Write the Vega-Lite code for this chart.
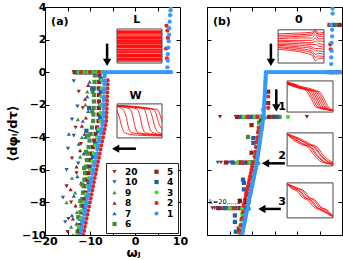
{
"$schema":"https://vega.github.io/schema/vega-lite/v6.json",
"padding":{"left":5,"top":0,"right":0,"bottom":0},
"background":"white",
"bounds":"flush",
"spacing":27,
"config":{
 "view":{"stroke":"black","strokeWidth":1},
 "font":"DejaVu Sans",
 "axis":{"labelFont":"DejaVu Sans","labelFontWeight":"bold","labelFontSize":11,"labelColor":"black","domainColor":"black","tickColor":"black","grid":false,"titleFont":"DejaVu Sans","titleFontWeight":"bold","titleColor":"black","tickSize":-4,"labelPadding":3}
},
"datasets":{
"pa":[
{"x":-13.6,"y":0,"k":"20"},{"x":-12.4,"y":0,"k":"20"},{"x":-11.0,"y":0,"k":"20"},{"x":-12.5,"y":-1.2,"k":"20"},{"x":-11.6,"y":-2.2,"k":"20"},{"x":-13.2,"y":-3.4,"k":"20"},{"x":-12.0,"y":-4.4,"k":"20"},{"x":-14.0,"y":-5.3,"k":"20"},{"x":-13.0,"y":-6.2,"k":"20"},{"x":-15.2,"y":-7.0,"k":"20"},{"x":-14.2,"y":-8.0,"k":"20"},{"x":-14.8,"y":-9.0,"k":"20"},{"x":-15.0,"y":-9.8,"k":"20"},
{"x":-13.2,"y":0,"k":"10"},{"x":-11.8,"y":0,"k":"10"},{"x":-13.6,"y":-0.55,"k":"10"},{"x":-14.0,"y":-2.9,"k":"10"},{"x":-12.8,"y":-2.1,"k":"10"},{"x":-14.9,"y":-4.7,"k":"10"},{"x":-13.6,"y":-3.9,"k":"10"},{"x":-16.0,"y":-7.7,"k":"10"},{"x":-15.2,"y":-6.0,"k":"10"},{"x":-15.5,"y":-9.2,"k":"10"},{"x":-12.6,"y":-5.6,"k":"10"},
{"x":-12.8,"y":0,"k":"9"},{"x":-10.6,"y":0,"k":"9"},{"x":-12.7,"y":-2.9,"k":"9"},{"x":-11.0,"y":-2.0,"k":"9"},{"x":-14.0,"y":-6.5,"k":"9"},{"x":-12.2,"y":-5.2,"k":"9"},{"x":-13.3,"y":-7.4,"k":"9"},{"x":-15.2,"y":-8.0,"k":"9"},{"x":-12.9,"y":-8.6,"k":"9"},{"x":-14.2,"y":-9.5,"k":"9"},{"x":-11.8,"y":-4.0,"k":"9"},{"x":-10.6,"y":-1.2,"k":"9"},{"x":-13.8,"y":-10.0,"k":"9"},
{"x":-12.0,"y":0,"k":"8"},{"x":-10.2,"y":0,"k":"8"},{"x":-11.1,"y":-1.65,"k":"8"},{"x":-10.9,"y":-2.8,"k":"8"},{"x":-12.2,"y":-4.8,"k":"8"},{"x":-11.2,"y":-3.8,"k":"8"},{"x":-13.0,"y":-5.8,"k":"8"},{"x":-12.0,"y":-6.8,"k":"8"},{"x":-14.3,"y":-7.2,"k":"8"},{"x":-13.2,"y":-8.2,"k":"8"},{"x":-13.8,"y":-9.0,"k":"8"},{"x":-12.6,"y":-9.6,"k":"8"},{"x":-10.4,"y":-0.8,"k":"8"},{"x":-11.8,"y":-3.3,"k":"8"},
{"x":-11.5,"y":0,"k":"7"},{"x":-9.8,"y":0,"k":"7"},{"x":-14.7,"y":-3.8,"k":"7"},{"x":-10.6,"y":-1.5,"k":"7"},{"x":-10.4,"y":-2.4,"k":"7"},{"x":-11.6,"y":-3.0,"k":"7"},{"x":-12.5,"y":-4.4,"k":"7"},{"x":-11.4,"y":-5.0,"k":"7"},{"x":-12.8,"y":-6.4,"k":"7"},{"x":-13.6,"y":-7.6,"k":"7"},{"x":-12.2,"y":-7.9,"k":"7"},{"x":-14.0,"y":-8.8,"k":"7"},{"x":-13.0,"y":-9.3,"k":"7"},{"x":-10.1,"y":-0.6,"k":"7"},{"x":-11.0,"y":-4.0,"k":"7"},
{"x":-13.0,"y":0,"k":"6"},{"x":-12.2,"y":0,"k":"6"},{"x":-11.4,"y":0,"k":"6"},{"x":-10.6,"y":0,"k":"6"},{"x":-9.8,"y":0,"k":"6"},{"x":-9.0,"y":0,"k":"6"},
{"x":-8.93,"y":-0.2,"k":"6"},{"x":-8.98,"y":-0.6,"k":"6"},{"x":-9.03,"y":-1.0,"k":"6"},{"x":-9.09,"y":-1.4,"k":"6"},{"x":-9.14,"y":-1.8,"k":"6"},{"x":-9.19,"y":-2.2,"k":"6"},{"x":-9.25,"y":-2.6,"k":"6"},{"x":-9.3,"y":-3.0,"k":"6"},{"x":-9.58,"y":-3.4,"k":"6"},{"x":-9.86,"y":-3.8,"k":"6"},{"x":-10.1,"y":-4.2,"k":"6"},{"x":-10.3,"y":-4.6,"k":"6"},{"x":-10.5,"y":-5.0,"k":"6"},{"x":-10.7,"y":-5.4,"k":"6"},{"x":-10.9,"y":-5.8,"k":"6"},{"x":-11.08,"y":-6.2,"k":"6"},{"x":-11.24,"y":-6.6,"k":"6"},{"x":-11.4,"y":-7.0,"k":"6"},{"x":-11.56,"y":-7.4,"k":"6"},{"x":-11.72,"y":-7.8,"k":"6"},{"x":-11.9,"y":-8.2,"k":"6"},{"x":-12.1,"y":-8.6,"k":"6"},{"x":-12.3,"y":-9.0,"k":"6"},{"x":-12.54,"y":-9.4,"k":"6"},{"x":-12.78,"y":-9.8,"k":"6"},
{"x":-9.4,"y":-1.2,"k":"6"},{"x":-9.5,"y":-2.4,"k":"6"},{"x":-10.4,"y":-3.9,"k":"6"},{"x":-10.9,"y":-4.9,"k":"6"},{"x":-11.3,"y":-5.9,"k":"6"},{"x":-11.7,"y":-6.9,"k":"6"},{"x":-12.1,"y":-7.9,"k":"6"},{"x":-12.6,"y":-8.9,"k":"6"},
{"x":-13.4,"y":0,"k":"5"},{"x":-12.6,"y":0,"k":"5"},{"x":-11.8,"y":0,"k":"5"},{"x":-11.0,"y":0,"k":"5"},{"x":-10.2,"y":0,"k":"5"},{"x":-9.4,"y":0,"k":"5"},{"x":-8.6,"y":0,"k":"5"},{"x":-7.8,"y":0,"k":"5"},
{"x":-7.91,"y":-0.2,"k":"5"},{"x":-7.94,"y":-0.6,"k":"5"},{"x":-7.97,"y":-1.0,"k":"5"},{"x":-7.99,"y":-1.4,"k":"5"},{"x":-8.02,"y":-1.8,"k":"5"},{"x":-8.05,"y":-2.2,"k":"5"},{"x":-8.07,"y":-2.6,"k":"5"},{"x":-8.1,"y":-3.0,"k":"5"},{"x":-8.42,"y":-3.4,"k":"5"},{"x":-8.74,"y":-3.8,"k":"5"},{"x":-9.04,"y":-4.2,"k":"5"},{"x":-9.32,"y":-4.6,"k":"5"},{"x":-9.6,"y":-5.0,"k":"5"},{"x":-9.84,"y":-5.4,"k":"5"},{"x":-10.08,"y":-5.8,"k":"5"},{"x":-10.32,"y":-6.2,"k":"5"},{"x":-10.56,"y":-6.6,"k":"5"},{"x":-10.8,"y":-7.0,"k":"5"},{"x":-11.0,"y":-7.4,"k":"5"},{"x":-11.2,"y":-7.8,"k":"5"},{"x":-11.42,"y":-8.2,"k":"5"},{"x":-11.66,"y":-8.6,"k":"5"},{"x":-11.9,"y":-9.0,"k":"5"},{"x":-12.14,"y":-9.4,"k":"5"},{"x":-12.38,"y":-9.8,"k":"5"},
{"x":-12.9,"y":0,"k":"4"},{"x":-12.1,"y":0,"k":"4"},{"x":-11.3,"y":0,"k":"4"},{"x":-10.5,"y":0,"k":"4"},{"x":-9.7,"y":0,"k":"4"},{"x":-8.9,"y":0,"k":"4"},{"x":-8.1,"y":0,"k":"4"},{"x":-7.4,"y":0,"k":"4"},
{"x":-7.58,"y":-0.4,"k":"4"},{"x":-7.63,"y":-1.2,"k":"4"},{"x":-7.68,"y":-2.0,"k":"4"},{"x":-7.74,"y":-2.8,"k":"4"},{"x":-8.23,"y":-3.6,"k":"4"},{"x":-8.83,"y":-4.4,"k":"4"},{"x":-9.37,"y":-5.2,"k":"4"},{"x":-9.85,"y":-6.0,"k":"4"},{"x":-10.33,"y":-6.8,"k":"4"},{"x":-10.75,"y":-7.6,"k":"4"},{"x":-11.19,"y":-8.4,"k":"4"},{"x":-11.67,"y":-9.2,"k":"4"},{"x":-12.15,"y":-10.0,"k":"4"},
{"x":-9.5,"y":-1.0,"k":"4"},{"x":-10.2,"y":-2.2,"k":"4"},{"x":-10.8,"y":-3.6,"k":"4"},
{"x":-12.5,"y":0,"k":"3"},{"x":-11.5,"y":0,"k":"3"},{"x":-10.5,"y":0,"k":"3"},{"x":-9.5,"y":0,"k":"3"},{"x":-8.5,"y":0,"k":"3"},{"x":-7.5,"y":0,"k":"3"},
{"x":-7.37,"y":-0.5,"k":"3"},{"x":-7.43,"y":-1.0,"k":"3"},{"x":-7.5,"y":-1.5,"k":"3"},{"x":-7.57,"y":-2.0,"k":"3"},{"x":-7.63,"y":-2.5,"k":"3"},{"x":-7.7,"y":-3.0,"k":"3"},{"x":-8.07,"y":-3.5,"k":"3"},{"x":-8.43,"y":-4.0,"k":"3"},{"x":-8.8,"y":-4.5,"k":"3"},{"x":-9.16,"y":-5.0,"k":"3"},{"x":-9.53,"y":-5.5,"k":"3"},{"x":-9.89,"y":-6.0,"k":"3"},{"x":-10.26,"y":-6.5,"k":"3"},{"x":-10.62,"y":-7.0,"k":"3"},{"x":-10.99,"y":-7.5,"k":"3"},{"x":-11.35,"y":-8.0,"k":"3"},{"x":-11.72,"y":-8.5,"k":"3"},{"x":-12.08,"y":-9.0,"k":"3"},{"x":-12.45,"y":-9.5,"k":"3"},{"x":-12.81,"y":-10.0,"k":"3"},
{"x":-12.0,"y":0,"k":"2"},{"x":-10.0,"y":0,"k":"2"},{"x":-8.0,"y":0,"k":"2"},
{"x":-6.07,"y":-0.5,"k":"2"},{"x":-6.1,"y":-0.75,"k":"2"},{"x":-6.13,"y":-1.0,"k":"2"},{"x":-6.17,"y":-1.25,"k":"2"},{"x":-6.2,"y":-1.5,"k":"2"},{"x":-6.23,"y":-1.75,"k":"2"},{"x":-6.27,"y":-2.0,"k":"2"},{"x":-6.3,"y":-2.25,"k":"2"},{"x":-6.33,"y":-2.5,"k":"2"},{"x":-6.37,"y":-2.75,"k":"2"},{"x":-6.4,"y":-3.0,"k":"2"},{"x":-6.58,"y":-3.25,"k":"2"},{"x":-6.77,"y":-3.5,"k":"2"},{"x":-6.95,"y":-3.75,"k":"2"},{"x":-7.13,"y":-4.0,"k":"2"},{"x":-7.31,"y":-4.25,"k":"2"},{"x":-7.5,"y":-4.5,"k":"2"},{"x":-7.68,"y":-4.75,"k":"2"},{"x":-7.86,"y":-5.0,"k":"2"},{"x":-8.04,"y":-5.25,"k":"2"},{"x":-8.23,"y":-5.5,"k":"2"},{"x":-8.41,"y":-5.75,"k":"2"},{"x":-8.59,"y":-6.0,"k":"2"},{"x":-8.77,"y":-6.25,"k":"2"},{"x":-8.96,"y":-6.5,"k":"2"},{"x":-9.14,"y":-6.75,"k":"2"},{"x":-9.32,"y":-7.0,"k":"2"},{"x":-9.5,"y":-7.25,"k":"2"},{"x":-9.69,"y":-7.5,"k":"2"},{"x":-9.87,"y":-7.75,"k":"2"},{"x":-10.05,"y":-8.0,"k":"2"},{"x":-10.23,"y":-8.25,"k":"2"},{"x":-10.42,"y":-8.5,"k":"2"},{"x":-10.6,"y":-8.75,"k":"2"},{"x":-10.78,"y":-9.0,"k":"2"},{"x":-10.96,"y":-9.25,"k":"2"},{"x":-11.15,"y":-9.5,"k":"2"},{"x":-11.33,"y":-9.75,"k":"2"},{"x":-11.51,"y":-10.0,"k":"2"},
{"x":7.0,"y":2.85,"k":"2"},{"x":7.2,"y":2.55,"k":"2"},{"x":6.9,"y":1.45,"k":"2"},{"x":7.1,"y":0.85,"k":"2"},{"x":7.3,"y":2.1,"k":"2"},
{"x":-6.70,"y":0,"k":"1"},{"x":-6.73,"y":-0.25,"k":"1"},{"x":-6.77,"y":-0.5,"k":"1"},{"x":-6.80,"y":-0.75,"k":"1"},{"x":-6.83,"y":-1,"k":"1"},{"x":-6.87,"y":-1.25,"k":"1"},{"x":-6.90,"y":-1.5,"k":"1"},{"x":-6.93,"y":-1.75,"k":"1"},{"x":-6.97,"y":-2,"k":"1"},{"x":-7.00,"y":-2.25,"k":"1"},{"x":-7.03,"y":-2.5,"k":"1"},{"x":-7.07,"y":-2.75,"k":"1"},{"x":-7.10,"y":-3,"k":"1"},{"x":-7.28,"y":-3.25,"k":"1"},{"x":-7.47,"y":-3.5,"k":"1"},{"x":-7.65,"y":-3.75,"k":"1"},{"x":-7.83,"y":-4,"k":"1"},{"x":-8.01,"y":-4.25,"k":"1"},{"x":-8.20,"y":-4.5,"k":"1"},{"x":-8.38,"y":-4.75,"k":"1"},{"x":-8.56,"y":-5,"k":"1"},{"x":-8.74,"y":-5.25,"k":"1"},{"x":-8.93,"y":-5.5,"k":"1"},{"x":-9.11,"y":-5.75,"k":"1"},{"x":-9.29,"y":-6,"k":"1"},{"x":-9.47,"y":-6.25,"k":"1"},{"x":-9.66,"y":-6.5,"k":"1"},{"x":-9.84,"y":-6.75,"k":"1"},{"x":-10.02,"y":-7,"k":"1"},{"x":-10.2,"y":-7.25,"k":"1"},{"x":-10.39,"y":-7.5,"k":"1"},{"x":-10.57,"y":-7.75,"k":"1"},{"x":-10.75,"y":-8,"k":"1"},{"x":-10.93,"y":-8.25,"k":"1"},{"x":-11.12,"y":-8.5,"k":"1"},{"x":-11.3,"y":-8.75,"k":"1"},{"x":-11.48,"y":-9,"k":"1"},{"x":-11.66,"y":-9.25,"k":"1"},{"x":-11.85,"y":-9.5,"k":"1"},{"x":-12.03,"y":-9.75,"k":"1"},{"x":-12.21,"y":-10,"k":"1"},
{"x":-6.72,"y":-0.12,"k":"1"},{"x":-6.78,"y":-0.62,"k":"1"},{"x":-6.85,"y":-1.12,"k":"1"},{"x":-6.92,"y":-1.62,"k":"1"},{"x":-6.98,"y":-2.12,"k":"1"},{"x":-7.05,"y":-2.62,"k":"1"},{"x":-7.19,"y":-3.12,"k":"1"},{"x":-7.56,"y":-3.62,"k":"1"},{"x":-7.92,"y":-4.12,"k":"1"},{"x":-8.29,"y":-4.62,"k":"1"},{"x":-8.65,"y":-5.12,"k":"1"},{"x":-9.02,"y":-5.62,"k":"1"},{"x":-9.38,"y":-6.12,"k":"1"},{"x":-9.75,"y":-6.62,"k":"1"},{"x":-10.11,"y":-7.12,"k":"1"},{"x":-10.48,"y":-7.62,"k":"1"},{"x":-10.84,"y":-8.12,"k":"1"},{"x":-11.21,"y":-8.62,"k":"1"},{"x":-11.57,"y":-9.12,"k":"1"},{"x":-11.94,"y":-9.62,"k":"1"},
{"x":-6.4,"y":0,"k":"1"},{"x":-5.8,"y":0,"k":"1"},{"x":-5.2,"y":0,"k":"1"},{"x":-4.6,"y":0,"k":"1"},{"x":-4.0,"y":0,"k":"1"},{"x":-3.4,"y":0,"k":"1"},{"x":-2.8,"y":0,"k":"1"},{"x":-2.2,"y":0,"k":"1"},{"x":-1.6,"y":0,"k":"1"},{"x":-1.0,"y":0,"k":"1"},{"x":-0.4,"y":0,"k":"1"},{"x":0.2,"y":0,"k":"1"},{"x":0.8,"y":0,"k":"1"},{"x":1.4,"y":0,"k":"1"},{"x":2.0,"y":0,"k":"1"},{"x":2.6,"y":0,"k":"1"},{"x":3.2,"y":0,"k":"1"},{"x":3.8,"y":0,"k":"1"},{"x":4.4,"y":0,"k":"1"},{"x":5.0,"y":0,"k":"1"},{"x":5.6,"y":0,"k":"1"},{"x":6.2,"y":0,"k":"1"},{"x":6.8,"y":0,"k":"1"},{"x":7.4,"y":0,"k":"1"},{"x":8.0,"y":0,"k":"1"},
{"x":7.2,"y":0.3,"k":"1"},{"x":7.3,"y":0.7,"k":"1"},{"x":7.3,"y":1.1,"k":"1"},{"x":7.4,"y":1.5,"k":"1"},{"x":7.5,"y":1.9,"k":"1"},{"x":7.6,"y":2.3,"k":"1"},{"x":7.6,"y":2.7,"k":"1"},{"x":7.7,"y":3.1,"k":"1"},{"x":7.8,"y":3.5,"k":"1"},{"x":7.9,"y":3.8,"k":"1"},{"x":8.0,"y":4.0,"k":"1"}
],
"pb":[
{"x":-13.6,"y":-2.75,"k":"20"},{"x":-17.1,"y":-2.75,"k":"20"},{"x":2.2,"y":-2.75,"k":"20"},{"x":-16.9,"y":-5.55,"k":"20"},{"x":-14.6,"y":-5.55,"k":"20"},{"x":-18.8,"y":-8.35,"k":"20"},{"x":-17.2,"y":-8.35,"k":"20"},{"x":8.9,"y":0,"k":"20"},
{"x":-13.1,"y":-2.75,"k":"10"},{"x":-17.6,"y":-5.55,"k":"10"},{"x":-15.2,"y":-5.55,"k":"10"},{"x":-18.3,"y":-8.35,"k":"10"},{"x":-16.3,"y":-8.35,"k":"10"},
{"x":-12.6,"y":-2.75,"k":"9"},{"x":-14.0,"y":-5.55,"k":"9"},{"x":-12.0,"y":-5.55,"k":"9"},{"x":-17.7,"y":-8.35,"k":"9"},{"x":-15.0,"y":-8.35,"k":"9"},
{"x":-12.1,"y":-2.75,"k":"8"},{"x":-13.5,"y":-5.55,"k":"8"},{"x":-11.5,"y":-5.55,"k":"8"},{"x":-16.8,"y":-8.35,"k":"8"},{"x":-14.2,"y":-8.35,"k":"8"},
{"x":-11.6,"y":-2.75,"k":"7"},{"x":-13.0,"y":-5.55,"k":"7"},{"x":-10.8,"y":-5.55,"k":"7"},{"x":-15.8,"y":-8.35,"k":"7"},{"x":-13.5,"y":-8.35,"k":"7"},
{"x":-11.1,"y":-2.75,"k":"6"},{"x":-9.6,"y":-2.75,"k":"6"},{"x":-8.1,"y":-2.75,"k":"6"},{"x":-5.6,"y":-2.75,"k":"6"},{"x":-3.9,"y":-2.75,"k":"6"},{"x":-12.5,"y":-5.55,"k":"6"},{"x":-10.3,"y":-5.55,"k":"6"},{"x":-9.2,"y":-5.55,"k":"6"},{"x":-15.2,"y":-8.35,"k":"6"},{"x":-13.0,"y":-8.35,"k":"6"},{"x":-11.8,"y":-8.35,"k":"6"},
{"x":-8.4,"y":-3.1,"k":"6"},{"x":-8.5,"y":-3.6,"k":"6"},{"x":-8.7,"y":-4.1,"k":"6"},{"x":-8.9,"y":-4.6,"k":"6"},{"x":-9.1,"y":-5.1,"k":"6"},{"x":-10.9,"y":-3.98,"k":"6"},{"x":-9.6,"y":-6.0,"k":"6"},{"x":-9.9,"y":-6.5,"k":"6"},{"x":-10.2,"y":-7.0,"k":"6"},{"x":-10.5,"y":-7.5,"k":"6"},{"x":-10.8,"y":-8.0,"k":"6"},{"x":-12.0,"y":-8.9,"k":"6"},{"x":-12.3,"y":-9.4,"k":"6"},{"x":-12.6,"y":-9.9,"k":"6"},{"x":7.0,"y":0,"k":"6"},{"x":8.5,"y":0,"k":"6"},{"x":7.2,"y":2.9,"k":"6"},{"x":8.8,"y":2.9,"k":"6"},
{"x":-13.3,"y":-2.75,"k":"5"},{"x":-10.6,"y":-2.75,"k":"5"},{"x":-9.1,"y":-2.75,"k":"5"},{"x":-7.9,"y":-2.75,"k":"5"},{"x":-6.2,"y":-2.75,"k":"5"},{"x":-5.0,"y":-2.75,"k":"5"},{"x":-15.8,"y":-5.55,"k":"5"},{"x":-12.8,"y":-5.55,"k":"5"},{"x":-11.0,"y":-5.55,"k":"5"},{"x":-9.6,"y":-5.55,"k":"5"},{"x":-17.5,"y":-8.35,"k":"5"},{"x":-14.6,"y":-8.35,"k":"5"},{"x":-12.6,"y":-8.35,"k":"5"},{"x":-11.2,"y":-8.35,"k":"5"},
{"x":-10.1,"y":-3.25,"k":"5"},{"x":-10.1,"y":-4.95,"k":"5"},{"x":-8.0,"y":-3.0,"k":"5"},{"x":-12.7,"y":-7.9,"k":"5"},{"x":-11.2,"y":-7.5,"k":"5"},{"x":-12.9,"y":-9.6,"k":"5"},{"x":7.6,"y":0,"k":"5"},{"x":9.2,"y":0,"k":"5"},{"x":9.5,"y":2.9,"k":"5"},{"x":-6.4,"y":-1.2,"k":"5"},{"x":-6.4,"y":-1.9,"k":"5"},
{"x":-12.4,"y":-2.75,"k":"4"},{"x":-10.1,"y":-2.75,"k":"4"},{"x":-8.6,"y":-2.75,"k":"4"},{"x":-4.5,"y":-2.75,"k":"4"},{"x":-14.3,"y":-5.55,"k":"4"},{"x":-11.8,"y":-5.55,"k":"4"},{"x":-10.0,"y":-5.55,"k":"4"},{"x":-16.0,"y":-8.35,"k":"4"},{"x":-13.8,"y":-8.35,"k":"4"},{"x":-11.5,"y":-8.35,"k":"4"},
{"x":-9.7,"y":-4.05,"k":"4"},{"x":-9.7,"y":-4.35,"k":"4"},{"x":-11.8,"y":-6.8,"k":"4"},{"x":-11.8,"y":-7.2,"k":"4"},{"x":-12.0,"y":-6.6,"k":"4"},{"x":-13.8,"y":-8.8,"k":"4"},{"x":-13.8,"y":-9.2,"k":"4"},{"x":-13.6,"y":-9.8,"k":"4"},{"x":8.0,"y":0,"k":"4"},{"x":8.0,"y":2.9,"k":"4"},
{"x":-11.9,"y":-2.75,"k":"3"},{"x":-9.4,"y":-2.75,"k":"3"},{"x":-8.3,"y":-2.75,"k":"3"},{"x":-2.0,"y":-2.75,"k":"3"},{"x":-13.3,"y":-5.55,"k":"3"},{"x":-10.6,"y":-5.55,"k":"3"},{"x":-9.4,"y":-5.55,"k":"3"},{"x":-14.9,"y":-8.35,"k":"3"},{"x":-12.2,"y":-8.35,"k":"3"},{"x":-10.8,"y":-8.35,"k":"3"},
{"x":-7.6,"y":-2.3,"k":"3"},{"x":-8.1,"y":-3.2,"k":"3"},{"x":-8.3,"y":-3.8,"k":"3"},{"x":-8.5,"y":-4.4,"k":"3"},{"x":-8.7,"y":-5.0,"k":"3"},{"x":-9.3,"y":-5.3,"k":"3"},{"x":-9.4,"y":-5.9,"k":"3"},{"x":-9.7,"y":-6.4,"k":"3"},{"x":-10.0,"y":-6.9,"k":"3"},{"x":-10.3,"y":-7.4,"k":"3"},{"x":-10.6,"y":-7.9,"k":"3"},{"x":-12.2,"y":-8.7,"k":"3"},{"x":-12.4,"y":-9.1,"k":"3"},{"x":-12.6,"y":-9.5,"k":"3"},{"x":-12.8,"y":-9.9,"k":"3"},{"x":9.6,"y":0,"k":"3"},
{"x":-10.9,"y":-2.75,"k":"2"},{"x":-8.8,"y":-2.75,"k":"2"},{"x":-12.2,"y":-5.55,"k":"2"},{"x":-9.8,"y":-5.55,"k":"2"},{"x":-14.0,"y":-8.35,"k":"2"},{"x":-11.0,"y":-8.35,"k":"2"},{"x":-6.4,"y":-1.5,"k":"2"},{"x":-6.4,"y":-2.2,"k":"2"},
{"x":-8.5,"y":-3.4,"k":"2"},{"x":-8.65,"y":-3.7,"k":"2"},{"x":-8.8,"y":-4.0,"k":"2"},{"x":-8.95,"y":-4.3,"k":"2"},{"x":-9.1,"y":-4.6,"k":"2"},{"x":-9.25,"y":-4.9,"k":"2"},{"x":-9.4,"y":-5.2,"k":"2"},{"x":-9.97,"y":-5.8,"k":"2"},{"x":-10.12,"y":-6.0,"k":"2"},{"x":-10.27,"y":-6.2,"k":"2"},{"x":-10.42,"y":-6.4,"k":"2"},{"x":-10.58,"y":-6.6,"k":"2"},{"x":-10.73,"y":-6.8,"k":"2"},{"x":-10.89,"y":-7.0,"k":"2"},{"x":-11.05,"y":-7.2,"k":"2"},{"x":-11.2,"y":-7.4,"k":"2"},{"x":-11.35,"y":-7.6,"k":"2"},{"x":-11.51,"y":-7.8,"k":"2"},{"x":-11.67,"y":-8.0,"k":"2"},{"x":-11.82,"y":-8.2,"k":"2"},{"x":-12.0,"y":-8.6,"k":"2"},{"x":-12.3,"y":-9.0,"k":"2"},{"x":-12.5,"y":-9.4,"k":"2"},{"x":-12.8,"y":-9.8,"k":"2"},{"x":7.4,"y":1.7,"k":"2"},{"x":7.5,"y":1.4,"k":"2"},{"x":7.3,"y":2.9,"k":"2"},
{"x":-6.9,"y":0,"k":"1"},{"x":-6.3,"y":0,"k":"1"},{"x":-5.7,"y":0,"k":"1"},{"x":-5.1,"y":0,"k":"1"},{"x":-4.5,"y":0,"k":"1"},{"x":-3.9,"y":0,"k":"1"},{"x":-3.3,"y":0,"k":"1"},{"x":-2.7,"y":0,"k":"1"},{"x":-2.1,"y":0,"k":"1"},{"x":-1.5,"y":0,"k":"1"},{"x":-0.9,"y":0,"k":"1"},{"x":-0.3,"y":0,"k":"1"},{"x":0.3,"y":0,"k":"1"},{"x":0.9,"y":0,"k":"1"},{"x":1.5,"y":0,"k":"1"},{"x":2.1,"y":0,"k":"1"},{"x":2.7,"y":0,"k":"1"},{"x":3.3,"y":0,"k":"1"},{"x":3.9,"y":0,"k":"1"},{"x":4.5,"y":0,"k":"1"},{"x":5.1,"y":0,"k":"1"},{"x":5.7,"y":0,"k":"1"},{"x":6.3,"y":0,"k":"1"},{"x":6.9,"y":0,"k":"1"},{"x":7.5,"y":0,"k":"1"},{"x":8.1,"y":0,"k":"1"},{"x":8.7,"y":0,"k":"1"},{"x":9.3,"y":0,"k":"1"},{"x":9.8,"y":0,"k":"1"},
{"x":7.6,"y":0.5,"k":"1"},{"x":7.6,"y":0.9,"k":"1"},{"x":7.7,"y":1.3,"k":"1"},{"x":7.7,"y":1.8,"k":"1"},{"x":7.8,"y":2.2,"k":"1"},{"x":7.8,"y":2.6,"k":"1"},{"x":7.9,"y":3.6,"k":"1"},{"x":7.9,"y":3.9,"k":"1"},{"x":7.6,"y":2.9,"k":"1"},
{"x":-6.92,"y":-0.12,"k":"1"},{"x":-6.95,"y":-0.25,"k":"1"},{"x":-6.97,"y":-0.38,"k":"1"},{"x":-7.0,"y":-0.5,"k":"1"},{"x":-7.02,"y":-0.62,"k":"1"},{"x":-7.05,"y":-0.75,"k":"1"},{"x":-7.08,"y":-0.88,"k":"1"},{"x":-7.1,"y":-1.0,"k":"1"},{"x":-7.12,"y":-1.12,"k":"1"},{"x":-7.15,"y":-1.25,"k":"1"},{"x":-7.18,"y":-1.38,"k":"1"},{"x":-7.2,"y":-1.5,"k":"1"},{"x":-7.22,"y":-1.62,"k":"1"},{"x":-7.25,"y":-1.75,"k":"1"},{"x":-7.28,"y":-1.88,"k":"1"},{"x":-7.3,"y":-2.0,"k":"1"},{"x":-7.32,"y":-2.12,"k":"1"},{"x":-7.35,"y":-2.25,"k":"1"},{"x":-7.38,"y":-2.38,"k":"1"},{"x":-7.4,"y":-2.5,"k":"1"},{"x":-7.42,"y":-2.62,"k":"1"},{"x":-7.45,"y":-2.75,"k":"1"},{"x":-7.1,"y":-2.8,"k":"1"},{"x":-7.3,"y":-2.8,"k":"1"},
{"x":-7.58,"y":-3.0,"k":"1"},{"x":-7.65,"y":-3.12,"k":"1"},{"x":-7.71,"y":-3.25,"k":"1"},{"x":-7.78,"y":-3.38,"k":"1"},{"x":-7.84,"y":-3.5,"k":"1"},{"x":-7.91,"y":-3.62,"k":"1"},{"x":-7.98,"y":-3.75,"k":"1"},{"x":-8.04,"y":-3.88,"k":"1"},{"x":-8.11,"y":-4.0,"k":"1"},{"x":-8.18,"y":-4.12,"k":"1"},{"x":-8.24,"y":-4.25,"k":"1"},{"x":-8.3,"y":-4.38,"k":"1"},{"x":-8.37,"y":-4.5,"k":"1"},{"x":-8.44,"y":-4.62,"k":"1"},{"x":-8.5,"y":-4.75,"k":"1"},{"x":-8.57,"y":-4.88,"k":"1"},{"x":-8.64,"y":-5.0,"k":"1"},{"x":-8.7,"y":-5.12,"k":"1"},{"x":-8.77,"y":-5.25,"k":"1"},{"x":-8.84,"y":-5.38,"k":"1"},{"x":-8.9,"y":-5.5,"k":"1"},{"x":-8.6,"y":-5.6,"k":"1"},{"x":-8.8,"y":-5.6,"k":"1"},
{"x":-9.03,"y":-5.75,"k":"1"},{"x":-9.12,"y":-5.88,"k":"1"},{"x":-9.22,"y":-6.0,"k":"1"},{"x":-9.32,"y":-6.12,"k":"1"},{"x":-9.41,"y":-6.25,"k":"1"},{"x":-9.51,"y":-6.38,"k":"1"},{"x":-9.61,"y":-6.5,"k":"1"},{"x":-9.7,"y":-6.62,"k":"1"},{"x":-9.8,"y":-6.75,"k":"1"},{"x":-9.9,"y":-6.88,"k":"1"},{"x":-9.99,"y":-7.0,"k":"1"},{"x":-10.09,"y":-7.12,"k":"1"},{"x":-10.19,"y":-7.25,"k":"1"},{"x":-10.28,"y":-7.38,"k":"1"},{"x":-10.38,"y":-7.5,"k":"1"},{"x":-10.48,"y":-7.62,"k":"1"},{"x":-10.58,"y":-7.75,"k":"1"},{"x":-10.67,"y":-7.88,"k":"1"},{"x":-10.77,"y":-8.0,"k":"1"},{"x":-10.86,"y":-8.12,"k":"1"},{"x":-10.96,"y":-8.25,"k":"1"},{"x":-10.7,"y":-8.4,"k":"1"},{"x":-10.9,"y":-8.4,"k":"1"},
{"x":-11.14,"y":-8.5,"k":"1"},{"x":-11.22,"y":-8.62,"k":"1"},{"x":-11.31,"y":-8.75,"k":"1"},{"x":-11.4,"y":-8.88,"k":"1"},{"x":-11.49,"y":-9.0,"k":"1"},{"x":-11.58,"y":-9.12,"k":"1"},{"x":-11.67,"y":-9.25,"k":"1"},{"x":-11.76,"y":-9.38,"k":"1"},{"x":-11.85,"y":-9.5,"k":"1"},{"x":-11.94,"y":-9.62,"k":"1"},{"x":-12.02,"y":-9.75,"k":"1"},{"x":-12.11,"y":-9.88,"k":"1"},{"x":-12.2,"y":-10.0,"k":"1"}
],
"boxA":[{"x":-4,"x2":6,"y":0.56,"y2":2.65},{"x":-4,"x2":6,"y":-1.95,"y2":-4.04}],
"boxB":[{"x":-4.2,"x2":6,"y":0.56,"y2":2.6},{"x":-2.2,"x2":8,"y":-0.54,"y2":-2.45},{"x":-2.2,"x2":8,"y":-3.73,"y2":-5.76},{"x":-2.2,"x2":8,"y":-6.8,"y2":-8.95}],
"lA":[{"x":-4,"x2":6,"y":0.68},{"x":-4,"x2":6,"y":0.76},{"x":-4,"x2":6,"y":0.84},{"x":-4,"x2":6,"y":0.95},{"x":-4,"x2":6,"y":1.02},{"x":-4,"x2":6,"y":1.1},{"x":-4,"x2":6,"y":1.22},{"x":-4,"x2":6,"y":1.3},{"x":-4,"x2":6,"y":1.38},{"x":-4,"x2":6,"y":1.5},{"x":-4,"x2":6,"y":1.58},{"x":-4,"x2":6,"y":1.66},{"x":-4,"x2":6,"y":1.78},{"x":-4,"x2":6,"y":1.86},{"x":-4,"x2":6,"y":1.95},{"x":-4,"x2":6,"y":2.06},{"x":-4,"x2":6,"y":2.14},{"x":-4,"x2":6,"y":2.22},{"x":-4,"x2":6,"y":2.34},{"x":-4,"x2":6,"y":2.42},{"x":-4,"x2":6,"y":2.52}],
"wA":[
{"x":-4,"y":-2.35,"c":"w1"},{"x":-3.5,"y":-2.75,"c":"w1"},{"x":-3.0,"y":-3.3,"c":"w1"},{"x":-2.3,"y":-3.72,"c":"w1"},{"x":0,"y":-3.86,"c":"w1"},{"x":6,"y":-3.92,"c":"w1"},
{"x":-4,"y":-2.12,"c":"w2"},{"x":-2.7,"y":-2.28,"c":"w2"},{"x":-2.0,"y":-2.7,"c":"w2"},{"x":-1.5,"y":-3.35,"c":"w2"},{"x":-0.8,"y":-3.72,"c":"w2"},{"x":6,"y":-3.9,"c":"w2"},
{"x":-4,"y":-2.1,"c":"w3"},{"x":-1.2,"y":-2.25,"c":"w3"},{"x":-0.5,"y":-2.7,"c":"w3"},{"x":0,"y":-3.35,"c":"w3"},{"x":0.7,"y":-3.72,"c":"w3"},{"x":6,"y":-3.88,"c":"w3"},
{"x":-4,"y":-2.08,"c":"w4"},{"x":0.4,"y":-2.25,"c":"w4"},{"x":1.1,"y":-2.7,"c":"w4"},{"x":1.6,"y":-3.35,"c":"w4"},{"x":2.3,"y":-3.72,"c":"w4"},{"x":6,"y":-3.86,"c":"w4"},
{"x":-4,"y":-2.07,"c":"w5"},{"x":1.9,"y":-2.25,"c":"w5"},{"x":2.6,"y":-2.7,"c":"w5"},{"x":3.1,"y":-3.3,"c":"w5"},{"x":3.8,"y":-3.7,"c":"w5"},{"x":6,"y":-3.84,"c":"w5"},
{"x":-4,"y":-2.06,"c":"w6"},{"x":3.1,"y":-2.28,"c":"w6"},{"x":3.8,"y":-2.7,"c":"w6"},{"x":4.3,"y":-3.25,"c":"w6"},{"x":5.0,"y":-3.65,"c":"w6"},{"x":6,"y":-3.78,"c":"w6"},
{"x":-4,"y":-2.05,"c":"w7"},{"x":4.2,"y":-2.3,"c":"w7"},{"x":4.8,"y":-2.65,"c":"w7"},{"x":5.3,"y":-3.15,"c":"w7"},{"x":6,"y":-3.5,"c":"w7"},
{"x":-4,"y":-2.04,"c":"w8"},{"x":5.0,"y":-2.3,"c":"w8"},{"x":5.6,"y":-2.65,"c":"w8"},{"x":6,"y":-3.0,"c":"w8"}
],
"inB":[
{"x":-4.2,"y":2.35,"c":"a1"},{"x":0.5,"y":2.4,"c":"a1"},{"x":3.3,"y":2.45,"c":"a1"},{"x":4.1,"y":2.58,"c":"a1"},{"x":4.8,"y":2.4,"c":"a1"},{"x":6,"y":2.45,"c":"a1"},
{"x":-4.2,"y":2.25,"c":"a2"},{"x":0.5,"y":2.3,"c":"a2"},{"x":3.3,"y":2.35,"c":"a2"},{"x":4.1,"y":2.55,"c":"a2"},{"x":4.8,"y":2.3,"c":"a2"},{"x":6,"y":2.35,"c":"a2"},
{"x":-4.2,"y":2.15,"c":"a3"},{"x":0.5,"y":2.2,"c":"a3"},{"x":3.3,"y":2.25,"c":"a3"},{"x":4.1,"y":2.45,"c":"a3"},{"x":4.8,"y":2.2,"c":"a3"},{"x":6,"y":2.2,"c":"a3"},
{"x":-4.2,"y":2.05,"c":"a4"},{"x":0.5,"y":2.1,"c":"a4"},{"x":3.3,"y":2.1,"c":"a4"},{"x":4.1,"y":2.3,"c":"a4"},{"x":4.8,"y":2.05,"c":"a4"},{"x":6,"y":2.05,"c":"a4"},
{"x":-4.2,"y":1.95,"c":"a5"},{"x":0.5,"y":1.95,"c":"a5"},{"x":3.3,"y":1.95,"c":"a5"},{"x":4.1,"y":2.1,"c":"a5"},{"x":4.8,"y":1.9,"c":"a5"},{"x":6,"y":1.9,"c":"a5"},
{"x":-4.2,"y":1.9,"c":"a6"},{"x":0.5,"y":1.85,"c":"a6"},{"x":3.3,"y":1.8,"c":"a6"},{"x":4.1,"y":1.9,"c":"a6"},{"x":4.8,"y":1.75,"c":"a6"},{"x":6,"y":1.7,"c":"a6"},
{"x":-4.2,"y":1.8,"c":"a7"},{"x":0.5,"y":1.75,"c":"a7"},{"x":3.3,"y":1.7,"c":"a7"},{"x":4.1,"y":1.7,"c":"a7"},{"x":4.8,"y":1.6,"c":"a7"},{"x":6,"y":1.55,"c":"a7"},
{"x":-4.2,"y":1.7,"c":"a8"},{"x":0.5,"y":1.65,"c":"a8"},{"x":3.3,"y":1.55,"c":"a8"},{"x":4.1,"y":1.45,"c":"a8"},{"x":4.8,"y":1.45,"c":"a8"},{"x":6,"y":1.4,"c":"a8"},
{"x":-4.2,"y":1.65,"c":"a9"},{"x":0.5,"y":1.55,"c":"a9"},{"x":3.3,"y":1.45,"c":"a9"},{"x":4.1,"y":1.3,"c":"a9"},{"x":4.8,"y":1.3,"c":"a9"},{"x":6,"y":1.25,"c":"a9"},
{"x":-4.2,"y":1.55,"c":"a10"},{"x":0.5,"y":1.45,"c":"a10"},{"x":3.3,"y":1.3,"c":"a10"},{"x":4.1,"y":1.1,"c":"a10"},{"x":4.8,"y":1.15,"c":"a10"},{"x":6,"y":1.1,"c":"a10"},
{"x":-4.2,"y":1.5,"c":"a11"},{"x":0.5,"y":1.35,"c":"a11"},{"x":3.3,"y":1.2,"c":"a11"},{"x":4.1,"y":0.9,"c":"a11"},{"x":4.8,"y":1.0,"c":"a11"},{"x":6,"y":0.95,"c":"a11"},
{"x":-4.2,"y":1.4,"c":"a12"},{"x":0.5,"y":1.25,"c":"a12"},{"x":3.3,"y":1.05,"c":"a12"},{"x":4.1,"y":0.7,"c":"a12"},{"x":4.8,"y":0.85,"c":"a12"},{"x":6,"y":0.85,"c":"a12"},
{"x":-2.2,"y":-0.62,"c":"b1"},{"x":0.5,"y":-0.87,"c":"b1"},{"x":2.2,"y":-1.2,"c":"b1"},{"x":3.2,"y":-1.65,"c":"b1"},{"x":4.2,"y":-2.15,"c":"b1"},{"x":8,"y":-2.35,"c":"b1"},
{"x":-2.2,"y":-0.66,"c":"b2"},{"x":0.5,"y":-0.91,"c":"b2"},{"x":2.6,"y":-1.2,"c":"b2"},{"x":3.6,"y":-1.65,"c":"b2"},{"x":4.6,"y":-2.15,"c":"b2"},{"x":8,"y":-2.35,"c":"b2"},
{"x":-2.2,"y":-0.7,"c":"b3"},{"x":0.5,"y":-0.95,"c":"b3"},{"x":3.0,"y":-1.2,"c":"b3"},{"x":4.0,"y":-1.65,"c":"b3"},{"x":5.0,"y":-2.15,"c":"b3"},{"x":8,"y":-2.35,"c":"b3"},
{"x":-2.2,"y":-0.64,"c":"b4"},{"x":0.5,"y":-0.89,"c":"b4"},{"x":3.4,"y":-1.2,"c":"b4"},{"x":4.4,"y":-1.65,"c":"b4"},{"x":5.4,"y":-2.15,"c":"b4"},{"x":8,"y":-2.35,"c":"b4"},
{"x":-2.2,"y":-0.68,"c":"b5"},{"x":0.5,"y":-0.93,"c":"b5"},{"x":3.8,"y":-1.2,"c":"b5"},{"x":4.8,"y":-1.65,"c":"b5"},{"x":5.8,"y":-2.15,"c":"b5"},{"x":8,"y":-2.35,"c":"b5"},
{"x":-2.2,"y":-0.72,"c":"b6"},{"x":0.5,"y":-0.97,"c":"b6"},{"x":4.2,"y":-1.2,"c":"b6"},{"x":5.2,"y":-1.65,"c":"b6"},{"x":6.2,"y":-2.15,"c":"b6"},{"x":8,"y":-2.35,"c":"b6"},
{"x":-2.2,"y":-0.6,"c":"b7"},{"x":0.5,"y":-0.85,"c":"b7"},{"x":4.6,"y":-1.2,"c":"b7"},{"x":5.6,"y":-1.65,"c":"b7"},{"x":6.6,"y":-2.15,"c":"b7"},{"x":8,"y":-2.35,"c":"b7"},
{"x":-2.2,"y":-0.74,"c":"b8"},{"x":0.5,"y":-0.99,"c":"b8"},{"x":5.0,"y":-1.2,"c":"b8"},{"x":6.0,"y":-1.65,"c":"b8"},{"x":7.0,"y":-2.15,"c":"b8"},{"x":8,"y":-2.35,"c":"b8"},
{"x":-2.2,"y":-3.82,"c":"c1"},{"x":-0.6,"y":-4.2,"c":"c1"},{"x":1.0,"y":-4.45,"c":"c1"},{"x":2.4,"y":-4.6,"c":"c1"},{"x":3.8,"y":-5.1,"c":"c1"},{"x":5.4,"y":-5.5,"c":"c1"},{"x":8,"y":-5.66,"c":"c1"},
{"x":-2.2,"y":-3.8,"c":"c2"},{"x":-0.2,"y":-4.18,"c":"c2"},{"x":1.4,"y":-4.43,"c":"c2"},{"x":2.8,"y":-4.58,"c":"c2"},{"x":4.2,"y":-5.08,"c":"c2"},{"x":5.8,"y":-5.48,"c":"c2"},{"x":8,"y":-5.64,"c":"c2"},
{"x":-2.2,"y":-3.84,"c":"c3"},{"x":0.2,"y":-4.22,"c":"c3"},{"x":1.8,"y":-4.47,"c":"c3"},{"x":3.2,"y":-4.62,"c":"c3"},{"x":4.6,"y":-5.12,"c":"c3"},{"x":6.2,"y":-5.52,"c":"c3"},{"x":8,"y":-5.66,"c":"c3"},
{"x":-2.2,"y":-3.78,"c":"c4"},{"x":0.6,"y":-4.16,"c":"c4"},{"x":2.2,"y":-4.41,"c":"c4"},{"x":3.6,"y":-4.56,"c":"c4"},{"x":5.0,"y":-5.06,"c":"c4"},{"x":6.6,"y":-5.46,"c":"c4"},{"x":8,"y":-5.62,"c":"c4"},
{"x":-2.2,"y":-3.82,"c":"c5"},{"x":1.0,"y":-4.2,"c":"c5"},{"x":2.6,"y":-4.45,"c":"c5"},{"x":4.0,"y":-4.6,"c":"c5"},{"x":5.4,"y":-5.1,"c":"c5"},{"x":7.0,"y":-5.5,"c":"c5"},{"x":8,"y":-5.6,"c":"c5"},
{"x":-2.2,"y":-3.8,"c":"c6"},{"x":1.4,"y":-4.18,"c":"c6"},{"x":3.0,"y":-4.43,"c":"c6"},{"x":4.4,"y":-4.58,"c":"c6"},{"x":5.8,"y":-5.08,"c":"c6"},{"x":7.4,"y":-5.46,"c":"c6"},{"x":8,"y":-5.55,"c":"c6"},
{"x":-2.2,"y":-6.88,"c":"d1"},{"x":-1.2,"y":-7.15,"c":"d1"},{"x":0.0,"y":-7.3,"c":"d1"},{"x":1.2,"y":-7.7,"c":"d1"},{"x":2.4,"y":-7.85,"c":"d1"},{"x":3.8,"y":-8.3,"c":"d1"},{"x":5.0,"y":-8.45,"c":"d1"},{"x":8,"y":-8.88,"c":"d1"},
{"x":-2.2,"y":-6.86,"c":"d2"},{"x":-0.8,"y":-7.13,"c":"d2"},{"x":0.4,"y":-7.28,"c":"d2"},{"x":1.6,"y":-7.68,"c":"d2"},{"x":2.8,"y":-7.83,"c":"d2"},{"x":4.2,"y":-8.28,"c":"d2"},{"x":5.4,"y":-8.43,"c":"d2"},{"x":8,"y":-8.86,"c":"d2"},
{"x":-2.2,"y":-6.9,"c":"d3"},{"x":-0.4,"y":-7.17,"c":"d3"},{"x":0.8,"y":-7.32,"c":"d3"},{"x":2.0,"y":-7.72,"c":"d3"},{"x":3.2,"y":-7.87,"c":"d3"},{"x":4.6,"y":-8.32,"c":"d3"},{"x":5.8,"y":-8.47,"c":"d3"},{"x":8,"y":-8.88,"c":"d3"},
{"x":-2.2,"y":-6.86,"c":"d4"},{"x":0.0,"y":-7.13,"c":"d4"},{"x":1.2,"y":-7.28,"c":"d4"},{"x":2.4,"y":-7.68,"c":"d4"},{"x":3.6,"y":-7.83,"c":"d4"},{"x":5.0,"y":-8.28,"c":"d4"},{"x":6.2,"y":-8.43,"c":"d4"},{"x":8,"y":-8.85,"c":"d4"},
{"x":-2.2,"y":-6.88,"c":"d5"},{"x":0.4,"y":-7.15,"c":"d5"},{"x":1.6,"y":-7.3,"c":"d5"},{"x":2.8,"y":-7.7,"c":"d5"},{"x":4.0,"y":-7.85,"c":"d5"},{"x":5.4,"y":-8.3,"c":"d5"},{"x":6.6,"y":-8.45,"c":"d5"},{"x":8,"y":-8.84,"c":"d5"}
],
"dnA":[{"x":-6.2,"y":0.6,"x2":-6.2,"y2":1.75}],
"ltA":[{"x":-4.3,"y":-4.7,"x2":0.2,"y2":-4.7}],
"dnB":[{"x":-5.8,"y":0.6,"x2":-5.8,"y2":1.75},{"x":-4.6,"y":-2.2,"x2":-4.6,"y2":-1.05}],
"ltB":[{"x":-7.0,"y":-5.6,"x2":-2.7,"y2":-5.6},{"x":-7.8,"y":-8.4,"x2":-3.6,"y2":-8.4}],
"txA":[{"x":-16.7,"y":3.05,"t":"(a)"},{"x":0.4,"y":3.2,"t":"L"},{"x":0.1,"y":-1.45,"t":"W"}],
"txB":[{"x":-16.7,"y":3.05,"t":"(b)"},{"x":0.4,"y":3.2,"t":"0"},{"x":-3.3,"y":-2.15,"t":"1"},{"x":-3.3,"y":-5.15,"t":"2"},{"x":-3.3,"y":-7.97,"t":"3"}],
"kB":[{"x":-15.3,"y":-8.15,"t":"k=20,...,2,1"}]
},
"resolve":{"scale":{"color":"independent","shape":"independent","size":"independent"}},
"hconcat":[
{
 "width":135,"height":228,
 "encoding":{
  "x":{"field":"x","type":"quantitative","scale":{"domain":[-20,10],"nice":false,"zero":false},"axis":{"values":[-20,-15,-10,-5,0,5,10],"title":"ωⱼ","titleFontSize":13,"titleX":88,"titleY":21,"titleBaseline":"alphabetic","labelFlush":false,"labelPadding":4}},
  "y":{"field":"y","type":"quantitative","scale":{"domain":[-10,4],"nice":false,"zero":false},"axis":{"values":[-10,-8,-6,-4,-2,0,2,4],"title":"⟨dφᵢ/dτ⟩","titleFontSize":13,"titlePadding":2,"titleY":126}}
 },
 "resolve":{"axis":{"x":"independent","y":"independent"}},
 "layer":[
 {"layer":[
  {"data":{"name":"pa"},"mark":{"type":"point","filled":true,"opacity":1,"strokeWidth":0,"clip":true},
   "encoding":{
    "color":{"field":"k","type":"nominal","scale":{"domain":["20","10","9","8","7","6","5","4","3","2","1"],"range":["#9A1E1E","#1F5FA6","#3E8E3E","#9A1E1E","#1F5FA6","#3E8E3E","#9A1E1E","#1F5FA6","#44DD22","#E52222","#3399FF"]},
     "legend":{"title":null,"orient":"bottom-right","offset":2,"columns":2,"fillColor":"white","strokeColor":"#222","padding":4,"labelFontSize":9,"labelFontWeight":"bold","labelFont":"DejaVu Sans","labelColor":"black","symbolSize":18,"rowPadding":0.5,"columnPadding":14,"labelOffset":6,"symbolStrokeWidth":0}},
    "shape":{"field":"k","type":"nominal","scale":{"domain":["20","10","9","8","7","6","5","4","3","2","1"],"range":["triangle-down","triangle-down","triangle-up","triangle-up","triangle-up","square","square","square","circle","circle","circle"]}},
    "size":{"field":"k","type":"nominal","scale":{"domain":["20","10","9","8","7","6","5","4","3","2","1"],"range":[18,18,18,18,18,14,14,14,8,8,30]},"legend":null}
   }},
  {"data":{"name":"boxA"},"mark":{"type":"rect","fill":"white","stroke":"#444","strokeWidth":1},"encoding":{"x2":{"field":"x2"},"y2":{"field":"y2"}}},
  {"data":{"name":"lA"},"mark":{"type":"rule","color":"#FF1010","strokeWidth":1.6},"encoding":{"x2":{"field":"x2"}}},
  {"data":{"name":"wA"},"mark":{"type":"line","color":"#FF1010","strokeWidth":0.9,"interpolate":"monotone"},"encoding":{"detail":{"field":"c"}}},
  {"data":{"name":"dnA"},"mark":{"type":"rule","color":"black","strokeWidth":2.5},"encoding":{"x2":{"field":"x2"},"y2":{"field":"y2"}}},
  {"data":{"name":"dnA"},"mark":{"type":"point","shape":"triangle-down","filled":true,"color":"black","opacity":1,"size":70}},
  {"data":{"name":"ltA"},"mark":{"type":"rule","color":"black","strokeWidth":2.5},"encoding":{"x2":{"field":"x2"},"y2":{"field":"y2"}}},
  {"data":{"name":"ltA"},"mark":{"type":"point","shape":"triangle-left","filled":true,"color":"black","opacity":1,"size":70}},
  {"data":{"name":"txA"},"mark":{"type":"text","fontWeight":"bold","fontSize":11,"font":"DejaVu Sans","color":"black"},"encoding":{"text":{"field":"t"}}}
 ]},
 {"data":{"name":"boxA"},"mark":{"type":"point","opacity":0},
  "encoding":{
   "x":{"field":"x","type":"quantitative","scale":{"domain":[-20,10],"nice":false,"zero":false},"axis":{"orient":"top","labels":false,"title":null,"domain":false,"values":[-15,-10,-5,0,5],"tickSize":-4}},
   "y":{"field":"y","type":"quantitative","scale":{"domain":[-10,4],"nice":false,"zero":false},"axis":{"orient":"right","labels":false,"title":null,"domain":false,"values":[-8,-6,-4,-2,0,2],"tickSize":-4}}
  }}
 ]
},
{
 "width":135,"height":228,
 "encoding":{
  "x":{"field":"x","type":"quantitative","scale":{"domain":[-20,10],"nice":false,"zero":false},"axis":{"values":[-20,-15,-10,-5,0,5,10],"title":null,"labels":false}},
  "y":{"field":"y","type":"quantitative","scale":{"domain":[-10,4],"nice":false,"zero":false},"axis":{"values":[-10,-8,-6,-4,-2,0,2,4],"title":null,"labels":false}}
 },
 "resolve":{"axis":{"x":"independent","y":"independent"}},
 "layer":[
 {"layer":[
  {"data":{"name":"pb"},"mark":{"type":"point","filled":true,"opacity":1,"strokeWidth":0,"clip":true},
   "encoding":{
    "color":{"field":"k","type":"nominal","scale":{"domain":["20","10","9","8","7","6","5","4","3","2","1"],"range":["#9A1E1E","#1F5FA6","#3E8E3E","#9A1E1E","#1F5FA6","#3E8E3E","#9A1E1E","#1F5FA6","#44DD22","#E52222","#3399FF"]},"legend":null},
    "shape":{"field":"k","type":"nominal","scale":{"domain":["20","10","9","8","7","6","5","4","3","2","1"],"range":["triangle-down","triangle-down","triangle-up","triangle-up","triangle-up","square","square","square","circle","circle","circle"]},"legend":null},
    "size":{"field":"k","type":"nominal","scale":{"domain":["20","10","9","8","7","6","5","4","3","2","1"],"range":[18,18,18,18,18,14,14,14,8,8,30]},"legend":null}
   }},
  {"data":{"name":"boxB"},"mark":{"type":"rect","fill":"white","stroke":"#444","strokeWidth":1},"encoding":{"x2":{"field":"x2"},"y2":{"field":"y2"}}},
  {"data":{"name":"inB"},"mark":{"type":"line","color":"#FF1010","strokeWidth":0.9,"interpolate":"monotone"},"encoding":{"detail":{"field":"c"}}},
  {"data":{"name":"dnB"},"mark":{"type":"rule","color":"black","strokeWidth":2.5},"encoding":{"x2":{"field":"x2"},"y2":{"field":"y2"}}},
  {"data":{"name":"dnB"},"mark":{"type":"point","shape":"triangle-down","filled":true,"color":"black","opacity":1,"size":70}},
  {"data":{"name":"ltB"},"mark":{"type":"rule","color":"black","strokeWidth":2.5},"encoding":{"x2":{"field":"x2"},"y2":{"field":"y2"}}},
  {"data":{"name":"ltB"},"mark":{"type":"point","shape":"triangle-left","filled":true,"color":"black","opacity":1,"size":70}},
  {"data":{"name":"txB"},"mark":{"type":"text","fontWeight":"bold","fontSize":11,"font":"DejaVu Sans","color":"black"},"encoding":{"text":{"field":"t"}}},
  {"data":{"name":"kB"},"mark":{"type":"text","fontSize":6.5,"font":"DejaVu Sans","color":"black","baseline":"bottom"},"encoding":{"text":{"field":"t"}}}
 ]},
 {"data":{"name":"boxB"},"mark":{"type":"point","opacity":0},
  "encoding":{
   "x":{"field":"x","type":"quantitative","scale":{"domain":[-20,10],"nice":false,"zero":false},"axis":{"orient":"top","labels":false,"title":null,"domain":false,"values":[-15,-10,-5,0,5],"tickSize":-4}},
   "y":{"field":"y","type":"quantitative","scale":{"domain":[-10,4],"nice":false,"zero":false},"axis":{"orient":"right","labels":false,"title":null,"domain":false,"values":[-8,-6,-4,-2,0,2],"tickSize":-4}}
  }}
 ]
}
]
}
